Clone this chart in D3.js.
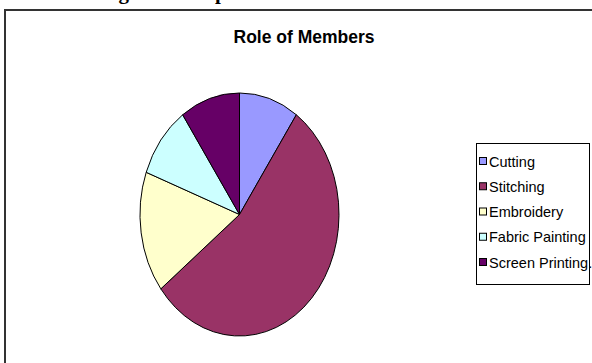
<!DOCTYPE html>
<html>
<head>
<meta charset="utf-8">
<script src="https://cdn.jsdelivr.net/npm/d3@7"></script>
<style>
  body { margin: 0; background: #fff; }
  svg { display: block; }
</style>
</head>
<body>
<svg class="pieSVG"></svg>
<script>
const svgWidth = 592;
const svgHeight = 363;

// data
const roles = ["Cutting", "Stitching", "Embroidery", "Fabric Painting", "Screen Printing."];
const members = [3, 17, 5, 3, 3];
const colours = ["#9999ff", "#993366", "#ffffcc", "#ccffff", "#660066"];
const chartTitle = "Role of Members";

const svg = d3.select('.pieSVG')
  .attr("width", svgWidth)
  .attr("height", svgHeight);

// cut off heading above the chart frame (only descenders show)
svg.append("text")
  .text("Showing the Group")
  .attr("x", 52)
  .attr("y", -1)
  .attr("font-family", "'Liberation Serif', 'Times New Roman', serif")
  .attr("font-weight", "bold")
  .attr("font-size", 21)
  .attr("fill", "#000");

// chart frame, runs off the right and bottom edges
svg.append("path")
  .attr("d", "M5," + (svgHeight + 5) + " V10 H" + (svgWidth + 5))
  .attr("fill", "none")
  .attr("stroke", "#333")
  .attr("stroke-width", 2);

svg.append("text")
  .text(chartTitle)
  .attr("x", 304)
  .attr("y", 43)
  .attr("text-anchor", "middle")
  .attr("font-family", "'Liberation Sans', Arial, sans-serif")
  .attr("font-weight", "bold")
  .attr("font-size", 17.5)
  .attr("fill", "#000");

// pie, drawn as a circle and stretched into an ellipse
var cx = 239.5, cy = 214.5, rx = 99.5, ry = 121.5;

var pie = d3.pie().sort(null).value(function(d) { return d; });
var arc = d3.arc().innerRadius(0).outerRadius(rx);

const pieG = svg.append("g")
  .attr("transform", "translate(" + cx + "," + cy + ") scale(1," + (ry / rx) + ")");

pieG.selectAll("path")
  .data(pie(members))
  .enter()
  .append("path")
    .attr("d", arc)
    .attr("fill", function(d, i) { return colours[i]; })
    .attr("stroke", "#000")
    .attr("stroke-width", 1)
    .attr("vector-effect", "non-scaling-stroke");

// legend
var legendY = d3.scalePoint()
  .domain(roles)
  .range([161, 262]);

svg.append("rect")
  .attr("x", 476.5)
  .attr("y", 143.5)
  .attr("width", 113)
  .attr("height", 141)
  .attr("fill", "#fff")
  .attr("stroke", "#000")
  .attr("stroke-width", 1);

const legend = svg.append("g");

legend.selectAll("rect.swatch")
  .data(roles)
  .enter()
  .append("rect")
    .attr("class", "swatch")
    .attr("x", 479.5)
    .attr("y", function(d) { return legendY(d) - 3.5; })
    .attr("width", 7)
    .attr("height", 7)
    .attr("fill", function(d, i) { return colours[i]; })
    .attr("stroke", "#000")
    .attr("stroke-width", 1);

legend.selectAll("text")
  .data(roles)
  .enter()
  .append("text")
    .text(function(d) { return d; })
    .attr("x", 489)
    .attr("y", function(d) { return legendY(d) + 5.5; })
    .attr("font-family", "'Liberation Sans', Arial, sans-serif")
    .attr("font-size", 14.5)
    .attr("fill", "#000");
</script>
</body>
</html>
